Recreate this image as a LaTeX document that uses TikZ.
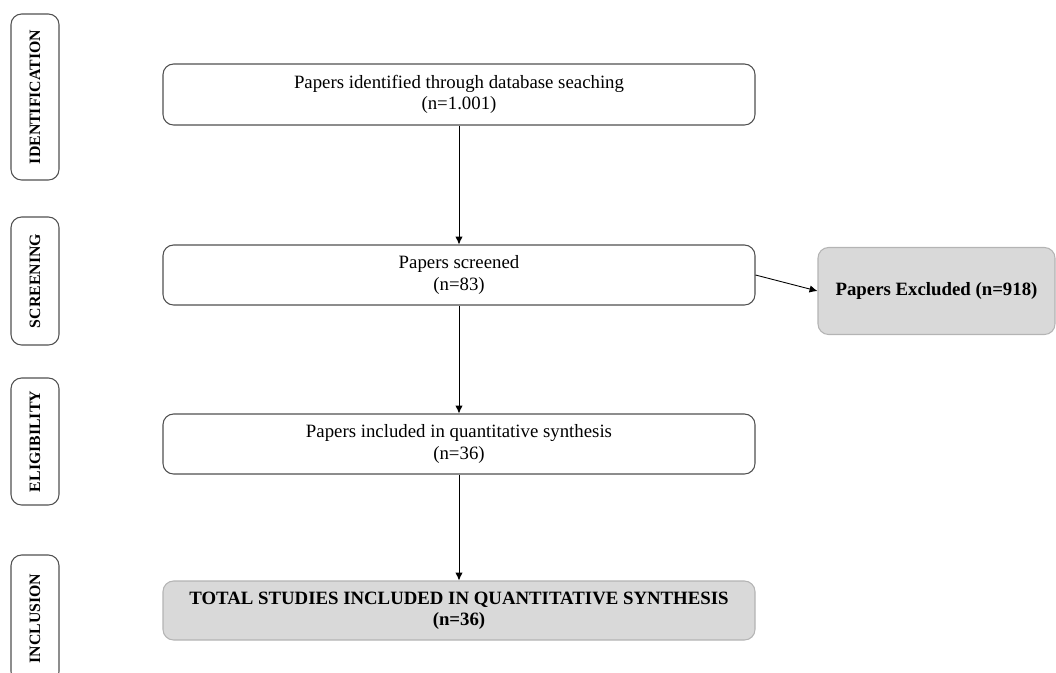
\documentclass[tikz,border=0pt]{standalone}
\usepackage{fontspec}
\setmainfont{Liberation Serif}
\usetikzlibrary{arrows.meta}
\definecolor{boxline}{HTML}{505050}
\definecolor{greyfill}{HTML}{D9D9D9}
\definecolor{greyline}{HTML}{B4B4B4}
\begin{document}
\begin{tikzpicture}[
    stage/.style={draw=boxline,line width=0.6pt,rounded corners=6pt,rotate=90,
      minimum height=0.96cm,inner sep=0pt,font=\fontsize{9}{11}\selectfont\bfseries},
    paper/.style={draw=boxline,line width=0.6pt,rounded corners=6pt,fill=white,
      minimum width=11.84cm,minimum height=1.2cm,align=center,
      font=\fontsize{10.7}{12}\selectfont},
    result/.style={paper,draw=greyline,fill=greyfill,font=\fontsize{10.7}{12}\selectfont\bfseries},
    flow/.style={-{Latex[length=4.5pt,width=4.2pt]},line width=0.5pt}]
      \useasboundingbox (0,0) rectangle (21.12,-13.44);
      % stages
      \node (ident) [stage,minimum width=3.32cm] at (0.70,-1.94) {IDENTIFICATION};
      \node (screen) [stage,minimum width=2.56cm] at (0.70,-5.62) {SCREENING};
      \node (elig) [stage,minimum width=2.54cm] at (0.70,-8.83) {ELIGIBILITY};
      \node (incl) [stage,minimum width=2.54cm] at (0.70,-12.37) {INCLUSION};
      % boxes
      \node (found) [paper,minimum height=1.22cm] at (9.18,-1.89)
        {Papers identified through database seaching\\(n=1.001)};
      \node (screened) [paper] at (9.18,-5.50) {Papers screened\\(n=83)};
      \node (included) [paper] at (9.18,-8.88)
        {Papers included in quantitative synthesis\\(n=36)};
      \node (total) [result,minimum height=1.18cm] at (9.18,-12.21)
        {TOTAL STUDIES INCLUDED IN QUANTITATIVE SYNTHESIS\\(n=36)};
      \node (excluded) [result,minimum width=4.74cm,minimum height=1.74cm] at (18.73,-5.82)
        {Papers Excluded (n=918)};
      % arrows
      \draw [flow] (found) -- (screened);
      \draw [flow] (screened) -- (included);
      \draw [flow] (included) -- (total);
      \draw [flow] (screened.east) -- (excluded.west);
\end{tikzpicture}
\end{document}
